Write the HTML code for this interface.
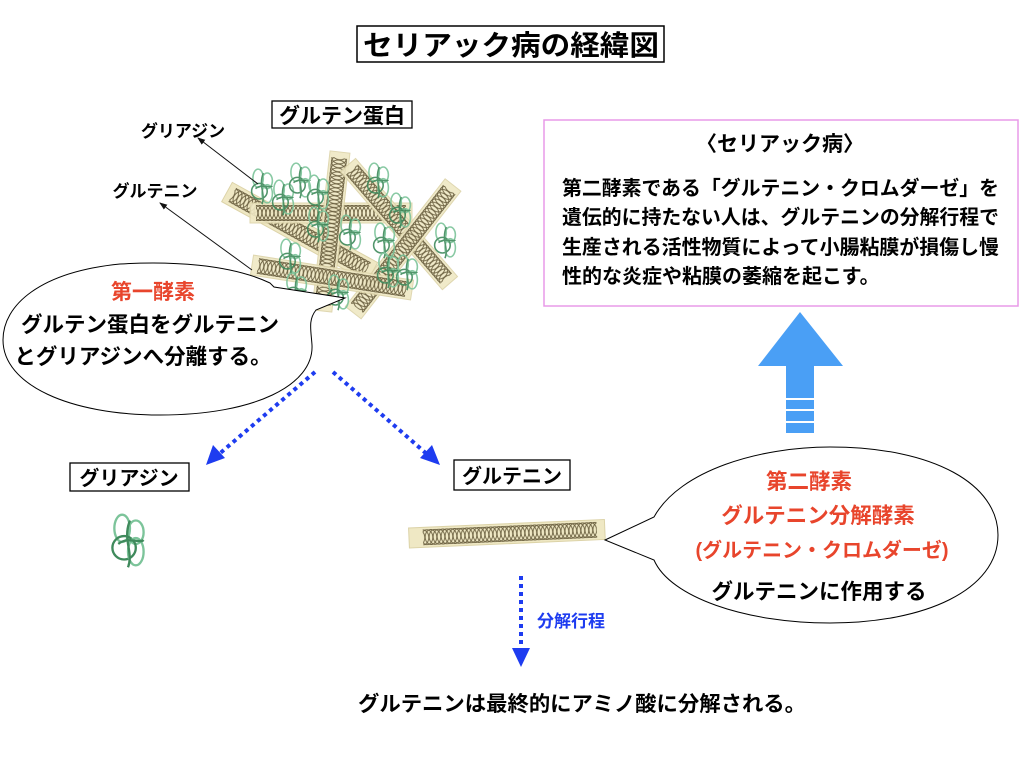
<!DOCTYPE html>
<html><head><meta charset="utf-8"><style>
body{margin:0;background:#fff;}
svg text{font-family:"Liberation Sans","Noto Sans CJK JP",sans-serif;font-weight:bold;}
</style></head><body>
<svg width="1024" height="768" viewBox="0 0 1024 768" xmlns="http://www.w3.org/2000/svg">
<defs>
<pattern id="cA" width="12" height="20" patternUnits="userSpaceOnUse" x="0" y="-10">
<ellipse cx="6" cy="10" rx="5.8" ry="7.5" fill="none" stroke="#6b6040" stroke-width="0.9"/>
</pattern>
<pattern id="cB" width="12" height="20" patternUnits="userSpaceOnUse" x="4" y="-10">
<ellipse cx="6" cy="10" rx="5.8" ry="7.5" fill="none" stroke="#6b6040" stroke-width="0.9"/>
</pattern>
<pattern id="cC" width="12" height="20" patternUnits="userSpaceOnUse" x="8" y="-10">
<ellipse cx="6" cy="10" rx="5.8" ry="7.5" fill="none" stroke="#6b6040" stroke-width="0.9"/>
</pattern>
<g id="coils">
</g>
<g id="blob0" fill="none" stroke-width="1.2">
<ellipse cx="-3" cy="-6" rx="4" ry="7" stroke="#7cc49a"/>
<ellipse cx="4" cy="-4" rx="4" ry="6" stroke="#7cc49a"/>
<ellipse cx="-2" cy="4" rx="6" ry="6" stroke="#3f8a5c"/>
<ellipse cx="4" cy="6" rx="4" ry="7" stroke="#7cc49a"/>
<path d="M1 -10 C-3 0 3 6 0 14 M-5 2 C0 -2 6 2 8 0" stroke="#3f8a5c"/>
</g>
<g id="blob"><use href="#blob0" transform="scale(1.3)"/></g>
<marker id="ah" markerWidth="8" markerHeight="8" refX="7" refY="4" orient="auto" markerUnits="userSpaceOnUse"><path d="M0 1 L8 4 L0 7 Z" fill="#111"/></marker>
</defs>

<rect x="357" y="26" width="307" height="36" fill="#fff" stroke="#000" stroke-width="1.5"/>
<text x="511" y="55" font-size="28" text-anchor="middle" textLength="296" lengthAdjust="spacingAndGlyphs">セリアック病の経緯図</text>

<rect x="272" y="101" width="140" height="27" fill="#fff" stroke="#000" stroke-width="1.3"/>
<text x="342" y="123" font-size="21" text-anchor="middle">グルテン蛋白</text>
<text x="183" y="137" font-size="17" text-anchor="middle">グリアジン</text>
<text x="155" y="197" font-size="17" text-anchor="middle">グルテニン</text>

<g transform="translate(227,192) rotate(28.9)"><rect x="0" y="-11" width="166" height="22" fill="#efe8c4" stroke="#dcd3a8"/><rect x="6" y="-9" width="154" height="18" fill="url(#cA)"/><rect x="6" y="-9" width="154" height="18" fill="url(#cB)"/><rect x="6" y="-9" width="154" height="18" fill="url(#cC)"/></g>
<g transform="translate(250,213)"><rect x="0" y="-10" width="162" height="20" fill="#efe8c4" stroke="#dcd3a8" opacity="0.9"/><rect x="6" y="-8" width="150" height="16" fill="url(#cA)"/><rect x="6" y="-8" width="150" height="16" fill="url(#cB)"/><rect x="6" y="-8" width="150" height="16" fill="url(#cC)"/></g>
<g transform="translate(340,152) rotate(96.5)"><rect x="0" y="-10" width="160" height="20" fill="#efe8c4" stroke="#dcd3a8" opacity="0.9"/><rect x="6" y="-8" width="148" height="16" fill="url(#cA)"/><rect x="6" y="-8" width="148" height="16" fill="url(#cB)"/><rect x="6" y="-8" width="148" height="16" fill="url(#cC)"/></g>
<g transform="translate(348,165) rotate(49.2)"><rect x="0" y="-10" width="156" height="20" fill="#efe8c4" stroke="#dcd3a8" opacity="0.9"/><rect x="6" y="-8" width="144" height="16" fill="url(#cA)"/><rect x="6" y="-8" width="144" height="16" fill="url(#cB)"/><rect x="6" y="-8" width="144" height="16" fill="url(#cC)"/></g>
<g transform="translate(453,185) rotate(128)"><rect x="0" y="-10" width="162" height="20" fill="#efe8c4" stroke="#dcd3a8" opacity="0.9"/><rect x="6" y="-8" width="150" height="16" fill="url(#cA)"/><rect x="6" y="-8" width="150" height="16" fill="url(#cB)"/><rect x="6" y="-8" width="150" height="16" fill="url(#cC)"/></g>
<g transform="translate(252,265) rotate(8.9)"><rect x="0" y="-10" width="162" height="20" fill="#efe8c4" stroke="#dcd3a8" opacity="0.9"/><rect x="6" y="-8" width="150" height="16" fill="url(#cA)"/><rect x="6" y="-8" width="150" height="16" fill="url(#cB)"/><rect x="6" y="-8" width="150" height="16" fill="url(#cC)"/></g>

<g opacity="0.9">
<use href="#blob" x="262" y="186"/><use href="#blob" x="283" y="197"/><use href="#blob" x="300" y="180"/>
<use href="#blob" x="318" y="192"/><use href="#blob" x="378" y="180"/><use href="#blob" x="400" y="210"/>
<use href="#blob" x="318" y="224"/><use href="#blob" x="350" y="232"/><use href="#blob" x="384" y="240"/>
<use href="#blob" x="388" y="270"/><use href="#blob" x="445" y="240"/><use href="#blob" x="290" y="256"/>
<use href="#blob" x="296" y="290"/><use href="#blob" x="338" y="292"/><use href="#blob" x="407" y="272"/>
</g>

<line x1="258" y1="184" x2="198" y2="138" stroke="#111" stroke-width="1" marker-end="url(#ah)"/>
<line x1="252" y1="270" x2="160" y2="203" stroke="#111" stroke-width="1" marker-end="url(#ah)"/>

<path d="M270 283 C230 264 170 261 120 264 C40 272 3 305 3 340 C3 385 70 415 160 415 C255 415 314 385 312 345 C311 330 308 320 316 310 L345 298 L274 287 Z" fill="#fff" stroke="#000" stroke-width="1"/>
<text x="153" y="299" font-size="21" fill="#e8452c" text-anchor="middle">第一酵素</text>
<text x="150" y="332" font-size="21.5" text-anchor="middle">グルテン蛋白をグルテニン</text>
<text x="143" y="364" font-size="21.5" text-anchor="middle">とグリアジンへ分離する。</text>

<line x1="315" y1="372" x2="218" y2="455" stroke="#1e3cf0" stroke-width="4" stroke-dasharray="4 4"/>
<path d="M206 465 L213 445 L225 458 Z" fill="#1e3cf0"/>
<line x1="333" y1="372" x2="428" y2="455" stroke="#1e3cf0" stroke-width="4" stroke-dasharray="4 4"/>
<path d="M440 465 L420 458 L432 445 Z" fill="#1e3cf0"/>

<rect x="70" y="463" width="119" height="28" fill="#fff" stroke="#000" stroke-width="1.3"/>
<text x="129" y="485" font-size="20" text-anchor="middle">グリアジン</text>
<rect x="454" y="460" width="116" height="30" fill="#fff" stroke="#000" stroke-width="1.3"/>
<text x="512" y="483" font-size="20" text-anchor="middle">グルテニン</text>

<g transform="translate(128,540) scale(1.5)"><use href="#blob"/></g>

<g transform="translate(409,538) rotate(-2.5)"><rect x="0" y="-10" width="196" height="20" fill="#efe8c4" stroke="#dcd3a8"/><rect x="14" y="-8" width="174" height="16" fill="url(#cA)"/><rect x="14" y="-8" width="174" height="16" fill="url(#cB)"/><rect x="14" y="-8" width="174" height="16" fill="url(#cC)"/></g>

<path d="M654 517 C680 470 760 447 830 447 C935 447 998 485 998 535 C998 590 925 623 830 623 C745 623 670 597 654 560 L605 540 Z" fill="#fff" stroke="#000" stroke-width="1"/>
<text x="809" y="489" font-size="21.5" fill="#e8452c" text-anchor="middle">第二酵素</text>
<text x="818" y="523" font-size="21.5" fill="#e8452c" text-anchor="middle">グルテニン分解酵素</text>
<text x="822" y="557" font-size="20" fill="#e8452c" text-anchor="middle" textLength="253" lengthAdjust="spacingAndGlyphs">(グルテニン・クロムダーゼ)</text>
<text x="819" y="599" font-size="21.5" text-anchor="middle">グルテニンに作用する</text>

<line x1="521" y1="576" x2="521" y2="648" stroke="#1e3cf0" stroke-width="4" stroke-dasharray="4 4"/>
<path d="M512 648 L530 648 L521 667 Z" fill="#1e3cf0"/>
<text x="537" y="627" font-size="17" fill="#1e3cf0">分解行程</text>

<text x="582" y="711" font-size="21" text-anchor="middle" textLength="448" lengthAdjust="spacingAndGlyphs">グルテニンは最終的にアミノ酸に分解される。</text>

<path d="M800 312 L843 366 L814 366 L814 433 L786 433 L786 366 L758 366 Z" fill="#4a9ff5"/>
<rect x="786" y="398" width="28" height="2" fill="#fff"/>
<rect x="786" y="409" width="28" height="2" fill="#fff"/>
<rect x="786" y="421" width="28" height="2" fill="#fff"/>

<rect x="544" y="120" width="474" height="186" fill="#fff" stroke="#e89ae8" stroke-width="1.5"/>
<text x="780" y="151" font-size="21" text-anchor="middle">〈セリアック病〉</text>
<text x="562" y="195" font-size="20" textLength="437" lengthAdjust="spacingAndGlyphs">第二酵素である「グルテニン・クロムダーゼ」を</text>
<text x="562" y="224" font-size="20" textLength="437" lengthAdjust="spacingAndGlyphs">遺伝的に持たない人は、グルテニンの分解行程で</text>
<text x="562" y="254" font-size="20" textLength="437" lengthAdjust="spacingAndGlyphs">生産される活性物質によって小腸粘膜が損傷し慢</text>
<text x="562" y="283" font-size="20">性的な炎症や粘膜の萎縮を起こす。</text>
</svg>
</body></html>
